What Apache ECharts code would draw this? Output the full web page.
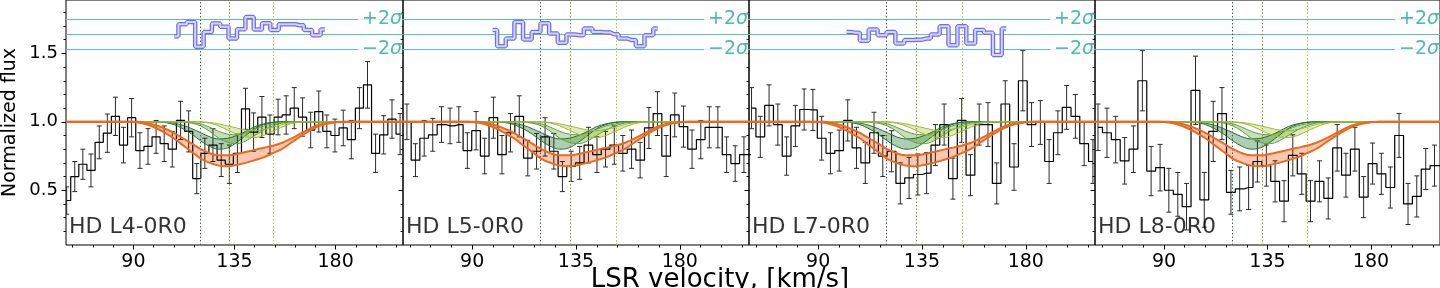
<!DOCTYPE html>
<html><head><meta charset="utf-8">
<script src="https://cdn.jsdelivr.net/npm/echarts@6/dist/echarts.min.js"></script>
<style>html,body{margin:0;padding:0;background:#fff}#c{width:1440px;height:288px}</style>
</head><body><div id="c"></div>
<script>
const panelNames = ['HD L4-0R0','HD L5-0R0','HD L7-0R0','HD L8-0R0'];
const xTickMajor = [90,135,180];
const xTickMinor = [63,72,81,90,99,108,117,126,135,144,153,162,171,180,189,198,207];
const yTickMajor = [0.5,1.0,1.5];
const yTickMinor = [0.2,0.3,0.4,0.5,0.6,0.7,0.8,0.9,1.0,1.1,1.2,1.3,1.4,1.5,1.6,1.7,1.8];
const compLines = [119.7,132.7,152.3];
const sigmaLevels = [1.75,1.64,1.53];

// Panel 1 data
const vel1 = [60.3,63.9,67.5,71.1,74.8,78.4,82.0,85.6,89.2,92.9,96.5,100.1,103.7,107.3,111.0,114.6,118.2,121.8,125.4,129.1,132.7,136.3,139.9,143.5,147.2,150.8,154.4,158.0,161.6,165.3,168.9,172.5,176.1,179.7,183.4,187.0,190.6,194.2,197.8,201.4,205.1,208.7];
const flux1 = [0.425,0.60,0.69,0.645,0.85,0.917,1.04,0.83,1.03,0.79,0.82,0.89,0.84,0.80,1.01,0.93,0.585,0.77,0.83,0.72,0.69,0.77,1.095,0.925,1.035,0.91,1.035,1.05,1.10,1.035,0.94,1.075,0.93,0.90,0.955,0.87,1.10,1.27,0.77,0.905,1.02,0.91];
const err1 = [0.10,0.11,0.11,0.12,0.12,0.14,0.14,0.13,0.14,0.13,0.13,0.12,0.13,0.13,0.14,0.15,0.11,0.11,0.12,0.12,0.14,0.14,0.15,0.14,0.15,0.14,0.13,0.14,0.15,0.14,0.13,0.15,0.12,0.12,0.13,0.14,0.15,0.17,0.14,0.14,0.14,0.15];
// Panel 2 data
const vel2 = [61.7,65.4,69.2,72.9,76.7,80.4,84.2,87.9,91.7,95.4,99.2,102.9,106.6,110.4,114.1,117.9,121.6,125.4,129.1,132.9,136.6,140.4,144.1,147.8,151.6,155.3,159.1,162.8,166.6,170.3,174.1,177.8,181.6,185.3,189.1,192.8,196.5,200.3,204.0,207.8,211.5];
const flux2 = [1.00,0.72,0.88,0.905,0.98,0.97,0.98,0.79,0.935,0.75,1.03,0.76,0.92,1.04,0.735,0.785,0.89,0.785,0.60,0.675,0.70,0.83,0.76,0.80,0.83,0.77,0.80,0.72,0.955,1.06,0.75,1.05,0.965,0.80,0.87,0.96,0.96,0.76,0.695,0.76,0.76];
const err2 = [0.13,0.12,0.13,0.12,0.13,0.13,0.13,0.13,0.14,0.13,0.15,0.14,0.14,0.15,0.13,0.13,0.14,0.13,0.11,0.11,0.12,0.13,0.13,0.13,0.14,0.13,0.14,0.13,0.15,0.16,0.15,0.16,0.15,0.14,0.14,0.15,0.15,0.13,0.13,0.13,0.13];
// Panel 3 data
const vel3 = [61.1,64.9,68.7,72.5,76.3,80.1,83.9,87.7,91.5,95.3,99.1,102.8,106.6,110.4,114.2,118.0,121.8,125.6,129.4,133.2,137.0,140.8,144.6,148.4,152.2,156.0,159.8,163.6,167.4,171.1,174.9,178.7,182.5,186.3,190.1,193.9,197.7,201.5,205.3,209.1];
const flux3 = [1.10,0.89,1.12,0.98,0.75,0.97,1.09,1.087,0.88,0.77,0.79,1.01,0.81,0.70,0.92,0.75,0.785,0.55,0.59,0.615,0.625,0.83,0.98,0.585,1.01,0.61,0.98,0.98,0.55,1.13,0.67,1.30,0.98,0.995,0.71,0.92,1.105,1.04,0.84,0.71];
const err3 = [0.15,0.15,0.15,0.15,0.14,0.15,0.15,0.15,0.16,0.15,0.15,0.15,0.15,0.15,0.15,0.15,0.15,0.15,0.15,0.15,0.15,0.15,0.15,0.15,0.16,0.15,0.15,0.16,0.15,0.17,0.17,0.22,0.16,0.16,0.16,0.16,0.16,0.16,0.16,0.16];
// Panel 4 data
const vel4 = [61.3,65.2,69.0,72.9,76.7,80.6,84.4,88.3,92.1,96.0,99.8,103.7,107.5,111.4,115.2,119.1,122.9,126.8,130.6,134.5,138.3,142.2,146.0,149.9,153.7,157.6,161.4,165.3,169.1,173.0,176.8,180.7,184.5,188.4,192.2,196.1,199.9,203.8,207.6,211.5];
const flux4 = [0.96,0.92,0.87,0.715,0.80,1.30,0.64,0.665,0.50,0.47,0.38,1.23,0.43,0.93,1.06,0.485,0.51,0.52,0.71,0.68,0.565,0.42,0.755,0.62,0.42,0.565,0.44,0.81,0.61,0.80,0.45,0.695,0.62,0.52,0.90,0.40,0.455,0.655,0.68,0.68];
const err4 = [0.17,0.18,0.17,0.17,0.17,0.22,0.18,0.17,0.16,0.16,0.17,0.25,0.20,0.22,0.19,0.16,0.16,0.16,0.15,0.15,0.15,0.15,0.15,0.15,0.15,0.15,0.15,0.17,0.16,0.16,0.15,0.15,0.15,0.15,0.16,0.15,0.15,0.15,0.15,0.15];

// Residuals (offset + scaled), panels 1-3
const resVel1 = [108.2,111.9,115.6,119.4,123.1,126.8,130.5,134.2,138.0,141.7,145.4,149.1,152.8,156.6,160.3,164.0,167.7,171.4,175.2];
const res1 = [1.626,1.713,1.73,1.548,1.657,1.718,1.694,1.609,1.677,1.766,1.675,1.72,1.67,1.713,1.713,1.706,1.67,1.633,1.675];
const resVel2 = [98.9,102.7,106.4,110.2,113.9,117.7,121.5,125.2,129.0,132.7,136.5,140.3,144.0,147.8,151.5,155.3,159.1,162.8,166.6,170.4];
const res2 = [1.67,1.553,1.609,1.73,1.602,1.657,1.72,1.646,1.577,1.638,1.633,1.682,1.657,1.653,1.64,1.609,1.597,1.553,1.633,1.682];
const resVel3 = [102.3,106.1,110.0,113.8,117.7,121.5,125.4,129.2,133.1,136.9,140.7,144.6,148.4,152.3,156.1,160.0,163.8,167.7,171.5];
const res3 = [1.657,1.65,1.592,1.675,1.633,1.657,1.573,1.597,1.60,1.609,1.638,1.699,1.56,1.699,1.573,1.67,1.65,1.488,1.682];

// Model profiles (sampled from the figure)
const modelVel = [60,88,92,96,100,104,108,112,116,120,124,128,132,136,140,144,148,152,156,160,164,168,172,176,180,184,210];
const totLo = [1,1.0,0.995,0.98,0.955,0.92,0.88,0.83,0.78,0.73,0.70,0.68,0.675,0.685,0.70,0.72,0.74,0.77,0.80,0.845,0.89,0.93,0.965,0.985,0.997,1.0,1];
const totHi = [1,1,1.0,0.99,0.975,0.95,0.92,0.88,0.84,0.80,0.77,0.755,0.755,0.765,0.78,0.795,0.81,0.825,0.845,0.875,0.91,0.945,0.975,0.99,0.998,1.0,1];
const g1Lo = [1,1,1,1,1,0.995,0.98,0.95,0.91,0.86,0.82,0.80,0.81,0.85,0.90,0.95,0.98,0.995,1,1,1,1,1,1,1,1,1];
const g1Hi = [1,1,1,1,1,0.998,0.99,0.975,0.95,0.92,0.89,0.875,0.88,0.90,0.93,0.965,0.985,0.997,1,1,1,1,1,1,1,1,1];
const g2Lo = [1,1,1,1,1,1,1,0.998,0.99,0.97,0.93,0.88,0.85,0.84,0.86,0.90,0.94,0.97,0.99,0.998,1,1,1,1,1,1,1];
const g2Hi = [1,1,1,1,1,1,1,1,0.995,0.985,0.96,0.93,0.91,0.905,0.92,0.945,0.97,0.985,0.995,1,1,1,1,1,1,1,1];
const g3Lo = [1,1,1,1,1,1,1,1,1,0.998,0.99,0.97,0.94,0.91,0.89,0.885,0.90,0.93,0.96,0.985,0.997,1,1,1,1,1,1];
const g3Hi = [1,1,1,1,1,1,1,1,1,1,0.995,0.985,0.97,0.955,0.94,0.935,0.945,0.96,0.98,0.993,1,1,1,1,1,1,1];

const panels = [
  {vel:vel1, flux:flux1, err:err1, rv:resVel1, rs:res1},
  {vel:vel2, flux:flux2, err:err2, rv:resVel2, rs:res2},
  {vel:vel3, flux:flux3, err:err3, rv:resVel3, rs:res3},
  {vel:vel4, flux:flux4, err:err4, rv:null, rs:null}
];

const FONT = 'DejaVu Sans';
const chart = echarts.init(document.getElementById('c'), null, {renderer:'canvas'});
const grids = [], xAxes = [], yAxes = [], series = [];
const pair = (xs, ys) => xs.map((x,k)=>[x, ys[k]]);

function band(ai, xs, lo, hi, fill, z) {
  return {type:'custom', xAxisIndex:ai, yAxisIndex:ai, z, silent:true, clip:true,
    data:[[xs[0], lo[0]]],
    renderItem(params, api) {
      const pts = [];
      for (let k=0;k<xs.length;k++) pts.push(api.coord([xs[k], hi[k]]));
      for (let k=xs.length-1;k>=0;k--) pts.push(api.coord([xs[k], lo[k]]));
      return {type:'polygon', shape:{points:pts}, style:{fill}};
    }};
}
function curve(ai, xs, ys, color, w, z) {
  return {type:'line', xAxisIndex:ai, yAxisIndex:ai, z, silent:true, symbol:'none', smooth:0.35,
    data:pair(xs, ys), lineStyle:{color, width:w}};
}

panels.forEach((p, i) => {
  const left = 57 + 346*i;
  grids.push({left, top:0, width:346, height:245, show:true, borderColor:'#000', borderWidth:1, backgroundColor:'transparent'});
  const a = 2*i;
  xAxes.push({type:'value', gridIndex:i, min:60, max:210, position:'bottom',
    axisLine:{show:false}, splitLine:{show:false},
    axisTick:{show:true, customValues:xTickMinor, length:2.5, lineStyle:{color:'#000', width:1}},
    axisLabel:{show:false}});
  xAxes.push({type:'value', gridIndex:i, min:60, max:210, position:'bottom',
    axisLine:{show:false}, splitLine:{show:false},
    axisTick:{show:true, customValues:xTickMajor, length:4.5, lineStyle:{color:'#000', width:1}},
    axisLabel:{show:true, customValues:xTickMajor, fontFamily:FONT, fontSize:19, color:'#000', margin:8}});
  yAxes.push({type:'value', gridIndex:i, min:0.1, max:1.89, position:'left',
    axisLine:{show:false}, splitLine:{show:false},
    axisTick:{show:true, customValues:yTickMinor, length:2.5, lineStyle:{color:'#000', width:1}},
    axisLabel:{show:false}});
  yAxes.push({type:'value', gridIndex:i, min:0.1, max:1.89, position:'left',
    axisLine:{show:false}, splitLine:{show:false},
    name: i===0 ? 'Normalized flux' : '', nameLocation:'middle', nameGap:46,
    nameTextStyle:{fontFamily:FONT, fontSize:19, color:'#000'},
    axisTick:{show:true, customValues:yTickMajor, length:4.5, lineStyle:{color:'#000', width:1}},
    axisLabel:{show:i===0, customValues:yTickMajor, formatter:v=>v.toFixed(1), fontFamily:FONT, fontSize:18, color:'#000', margin:8}});

  // reference lines
  const ml = [];
  sigmaLevels.forEach(s => ml.push({yAxis:s, lineStyle:{color:'#5fc2b5', width:1, type:'solid'}}));
  const vcol = ['#44605c','#8f8f3c','#b9bc45'];
  compLines.forEach((v,k) => ml.push({xAxis:v, lineStyle:{color:vcol[k], width:1, type:[1.5,2]}}));
  series.push({type:'line', xAxisIndex:a, yAxisIndex:a, data:[], z:1, silent:true,
    markLine:{silent:true, symbol:'none', label:{show:false}, animation:false, data:ml}});

  // green components and total model band
  series.push(band(a, modelVel, g1Lo, g1Hi, 'rgba(40,125,55,0.38)', 2));
  series.push(band(a, modelVel, g2Lo, g2Hi, 'rgba(100,165,60,0.36)', 2));
  series.push(band(a, modelVel, g3Lo, g3Hi, 'rgba(165,195,60,0.34)', 2));
  series.push(band(a, modelVel, totLo, totHi, 'rgba(245,130,80,0.45)', 2));

  // data histogram + errors
  series.push({type:'line', xAxisIndex:a, yAxisIndex:a, z:4, silent:true, symbol:'none', step:'middle',
    data:pair(p.vel, p.flux), lineStyle:{color:'#000', width:1.2}});
  series.push({type:'custom', xAxisIndex:a, yAxisIndex:a, z:4, silent:true, clip:true,
    data:p.vel.map((v,k)=>[v, p.flux[k], p.err[k]]),
    renderItem(params, api) {
      const x = api.value(0), y = api.value(1), e = api.value(2);
      const t = api.coord([x, y+e]), bt = api.coord([x, y-e]);
      const st = {stroke:'#2a2a2a', lineWidth:1};
      return {type:'group', children:[
        {type:'line', shape:{x1:t[0], y1:t[1], x2:bt[0], y2:bt[1]}, style:st},
        {type:'line', shape:{x1:t[0]-2.5, y1:t[1], x2:t[0]+2.5, y2:t[1]}, style:st},
        {type:'line', shape:{x1:bt[0]-2.5, y1:bt[1], x2:bt[0]+2.5, y2:bt[1]}, style:st}]};
    }});

  // model edges
  series.push(curve(a, modelVel, g1Lo, '#24702a', 1, 5));
  series.push(curve(a, modelVel, g1Hi, '#24702a', 1, 5));
  series.push(curve(a, modelVel, g2Lo, '#5e9e40', 1, 5));
  series.push(curve(a, modelVel, g2Hi, '#5e9e40', 1, 5));
  series.push(curve(a, modelVel, g3Lo, '#9cba32', 1, 5));
  series.push(curve(a, modelVel, g3Hi, '#9cba32', 1, 5));
  series.push(curve(a, modelVel, totLo, '#ec6a1f', 2, 6));
  series.push(curve(a, modelVel, totHi, '#ec6a1f', 2, 6));

  // residuals
  if (p.rv) {
    series.push({type:'line', xAxisIndex:a, yAxisIndex:a, z:6, silent:true, symbol:'none', step:'middle',
      data:pair(p.rv, p.rs), lineStyle:{color:'#6e6ef2', width:4.5}});
    series.push({type:'line', xAxisIndex:a, yAxisIndex:a, z:7, silent:true, symbol:'none', step:'middle',
      data:pair(p.rv, p.rs), lineStyle:{color:'#d4d4ff', width:2}});
  }

  // text labels anchored in data coordinates
  const sig = (txt, y) => ({type:'scatter', xAxisIndex:a, yAxisIndex:a, z:8, silent:true, symbolSize:0,
    data:[[209.6, y]], label:{show:true, position:'left', distance:0, formatter:txt,
      backgroundColor:'#fff', padding:[0,0,0,4],
      rich:{n:{fontFamily:FONT, fontSize:19, color:'#26a896'}, s:{fontFamily:FONT, fontSize:19, fontStyle:'italic', color:'#26a896'}}}});
  series.push(sig('{n|+2}{s|σ}', sigmaLevels[0]));
  series.push(sig('{n|\u22122}{s|σ}', sigmaLevels[2]));
  series.push({type:'scatter', xAxisIndex:a, yAxisIndex:a, z:8, silent:true, symbolSize:0,
    data:[[61.3, 0.232]], label:{show:true, position:'right', distance:0, formatter:panelNames[i],
      fontFamily:FONT, fontSize:22, color:'#000'}});
});

chart.setOption({
  animation:false,
  grid:grids, xAxis:xAxes, yAxis:yAxes, series,
  graphic:[{type:'text', style:{text:'LSR velocity, [km/s]', x:720, y:267, fontFamily:FONT, fontSize:26, fill:'#000', textAlign:'center', textVerticalAlign:'top'}}]
});
</script></body></html>
